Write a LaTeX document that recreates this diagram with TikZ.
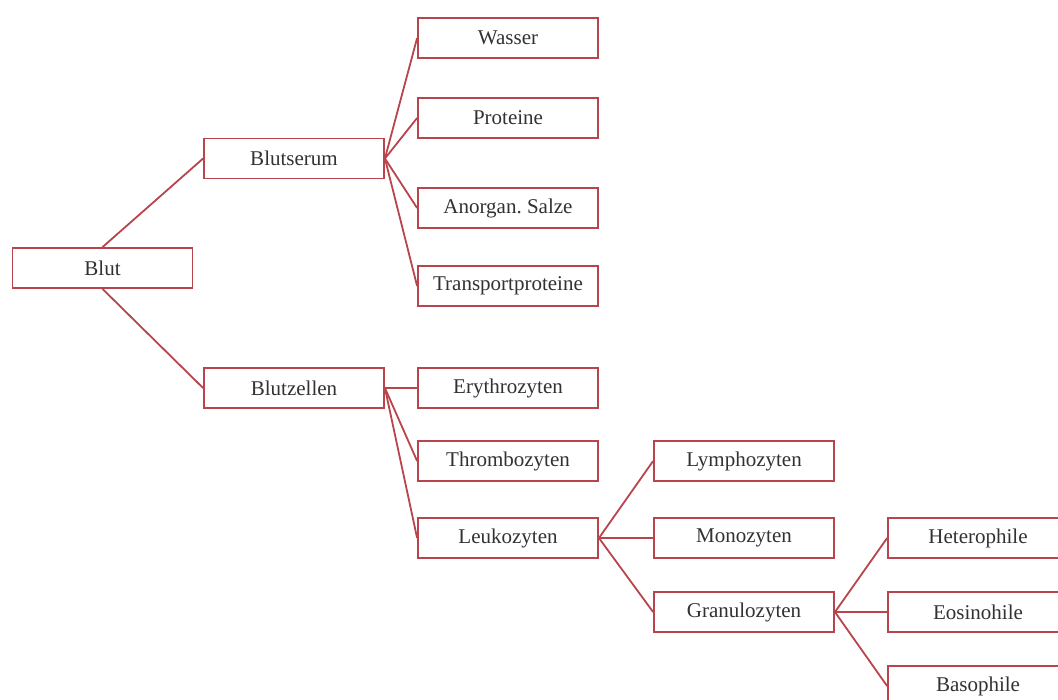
\documentclass[tikz,border=0pt]{standalone}
\usepackage{fontspec}
\setmainfont{Liberation Serif}
\definecolor{linkred}{RGB}{184,68,76}
\definecolor{inkgray}{RGB}{50,50,50}
\begin{document}
\begin{tikzpicture}[scale=0.1757]
        \tikzstyle{every node}+=[inner sep=0pt]
        \tikzstyle{box}=[draw=linkred, line width=0.9pt, fill=white, text=inkgray,
          minimum width=90pt, minimum height=20pt, font=\fontsize{10.5}{12}\selectfont]
        \tikzstyle{link}=[draw=linkred, line width=0.9pt]
        \useasboundingbox (0,0) rectangle (105.8,-70);
        \draw (10.25,-26.8) node [box] (blut) {Blut};
        \draw (29.4,-15.85) node [box] (serum) {Blutserum};
        \draw (29.4,-38.8) node [box] (zellen) {Blutzellen};
        \draw (50.8,-3.8) node [box] (wasser) {Wasser};
        \draw (50.8,-11.8) node [box] (proteine) {Proteine};
        \draw (50.8,-20.8) node [box] (salze) {Anorgan.\ Salze};
        \draw (50.8,-28.6) node [box] (transport) {Transportproteine};
        \draw (50.8,-38.8) node [box] (erythro) {Erythrozyten};
        \draw (50.8,-46.1) node [box] (thrombo) {Thrombozyten};
        \draw (50.8,-53.8) node [box] (leuko) {Leukozyten};
        \draw (74.4,-46.1) node [box] (lympho) {Lymphozyten};
        \draw (74.4,-53.8) node [box] (mono) {Monozyten};
        \draw (74.4,-61.2) node [box] (granulo) {Granulozyten};
        \draw (97.8,-53.8) node [box] (hetero) {Heterophile};
        \draw (97.8,-61.2) node [box] (eosino) {Eosinohile};
        \draw (97.8,-68.6) node [box] (baso) {Basophile};
        \draw [link] (blut.north) -- (serum.west);
        \draw [link] (blut.south) -- (zellen.west);
        \foreach \child in {wasser,proteine,salze,transport}
          \draw [link] (serum.east) -- (\child.west);
        \foreach \child in {erythro,thrombo,leuko}
          \draw [link] (zellen.east) -- (\child.west);
        \foreach \child in {lympho,mono,granulo}
          \draw [link] (leuko.east) -- (\child.west);
        \foreach \child in {hetero,eosino,baso}
          \draw [link] (granulo.east) -- (\child.west);
        \end{tikzpicture}
\end{document}
